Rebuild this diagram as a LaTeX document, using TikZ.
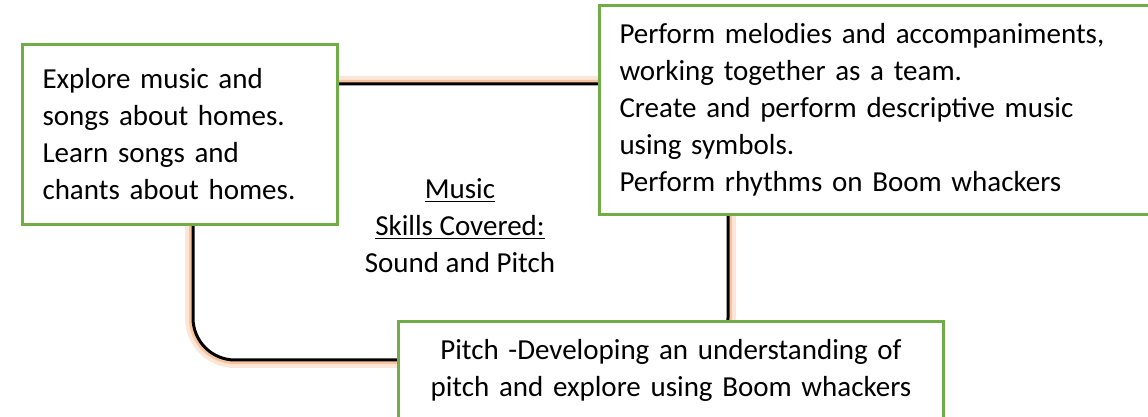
\documentclass[tikz,border=0pt]{standalone}
\usepackage{fontspec}
\setmainfont{Carlito}
\usetikzlibrary{positioning}
\definecolor{boxgreen}{RGB}{112,173,71}
\definecolor{glowdark}{RGB}{248,196,160}
\definecolor{glowlight}{RGB}{252,230,215}
\begin{document}
\begin{tikzpicture}[x=0.5pt,y=-0.5pt]
	\tikzset{topic/.style={draw=boxgreen,line width=1.5pt,fill=white,inner xsep=10pt,inner ysep=0pt,anchor=north west,font=\fontsize{14.5pt}{18.5pt}\selectfont}}
	\tikzset{frameline/.style={rounded corners=21pt,line width=1.5pt}}
	\useasboundingbox (0,0) rectangle (1148,417);
	\coordinate (frame nw) at (193,84);
	\coordinate (frame se) at (728,360);
	\draw[frameline,rounded corners=23.5pt,glowlight,line width=3pt] ([shift={(-5,-5)}]frame nw) rectangle ([shift={(5,5)}]frame se);
	\draw[frameline,rounded corners=22pt,glowdark,line width=1.5pt] ([shift={(-2.5,-2.5)}]frame nw) rectangle ([shift={(2.5,2.5)}]frame se);
	\draw[frameline] (frame nw) rectangle (frame se);
	\node[topic,minimum width=157.5pt,minimum height=90pt,text width=137.5pt,align=left] (explore) at (21,43) {Explore music and\\songs about homes.\\Learn songs and\\chants about homes.};
	\node[topic,minimum width=276pt,minimum height=104.5pt,text width=256pt,align=left] (perform) at (598,4) {Perform melodies and accompaniments,\\working together as a team.\\Create and perform descriptive music\\using symbols.\\Perform rhythms on Boom whackers};
	\node[topic,minimum width=272.5pt,minimum height=48.5pt,text width=252.5pt,align=center] (pitch) at (397,320) {Pitch -Developing an understanding of\\pitch and explore using Boom whackers};
	\node[font=\fontsize{14.5pt}{18.5pt}\selectfont,align=center] (music) at (460,226) {\underline{Music}\\\underline{Skills Covered:}\\Sound and Pitch};
\end{tikzpicture}
\end{document}
